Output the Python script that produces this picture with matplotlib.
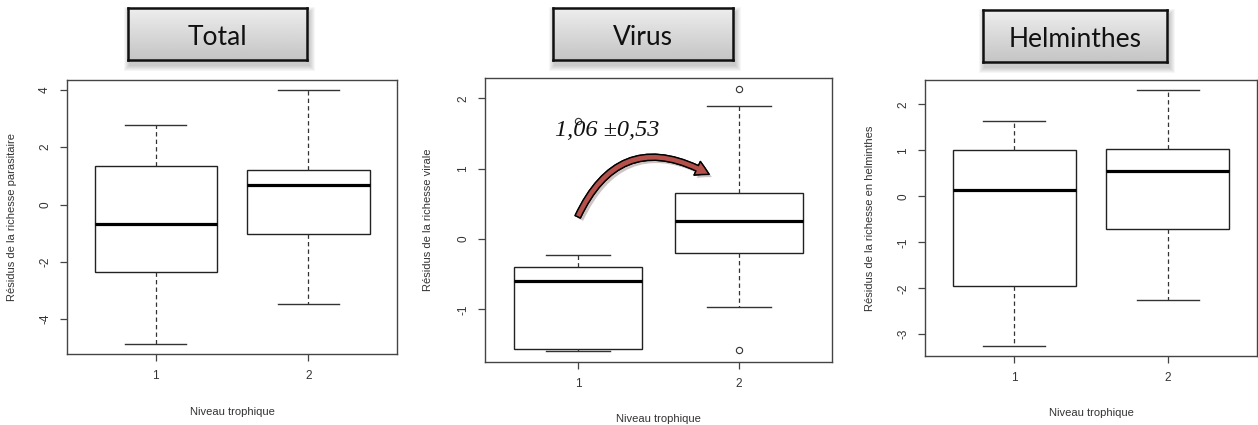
import numpy as np
import matplotlib
matplotlib.use('Agg')
import matplotlib.pyplot as plt
from matplotlib.patches import Rectangle, FancyArrowPatch
import matplotlib.patheffects as pe

W, H = 1258, 425
plt.rcParams['font.family'] = ['Liberation Sans', 'DejaVu Sans']

# valeurs des boxplots (niveau trophique 1 et 2)
titles = ["Total", "Virus", "Helminthes"]
ylabels = ["Résidus de la richesse parasitaire",
           "Résidus de la richesse virale",
           "Résidus de la richesse en helminthes"]
groups = ["1", "2"]

total_q = [[-4.86, -2.35, -0.67, 1.34, 2.78],
           [-3.48, -1.02, 0.69, 1.21, 3.99]]
total_out = [[], []]

virus_q = [[-1.60, -1.56, -0.60, -0.40, -0.23],
           [-0.97, -0.20, 0.26, 0.65, 1.89]]
virus_out = [[1.68], [2.14, -1.58]]

helm_q = [[-3.25, -1.94, 0.15, 1.00, 1.64],
          [-2.26, -0.71, 0.55, 1.04, 2.31]]
helm_out = [[], []]

yticks = [[-4, -2, 0, 2, 4], [-1, 0, 1, 2], [-3, -2, -1, 0, 1, 2]]

diff_label = "1,06 ±0,53"

# positions en pixels (x0, y0, x1, y1), origine en haut
axes_px = [(67, 80, 397, 354), (485, 78, 832, 362), (925, 80, 1257, 356)]
title_px = [(128, 8, 307, 60), (553, 8, 733, 60), (983, 10, 1167, 62)]
xlabel_y = [-0.193, -0.183, -0.188]

fig = plt.figure(figsize=(W / 100, H / 100), dpi=100)
fig.patch.set_facecolor('white')


def frac(x0, y0, x1, y1):
    return [x0 / W, 1 - y1 / H, (x1 - x0) / W, (y1 - y0) / H]


def title_box(box, text):
    x0, y0, x1, y1 = box
    # ombre floue sous le cadre
    for k in range(6):
        g = 6 - k
        fig.patches.append(Rectangle(((x0 - g + 2) / W, 1 - (y1 + 5 + g) / H),
                                     (x1 - x0 + 2 * g) / W, (y1 - y0 + 2 * g) / H,
                                     transform=fig.transFigure, color='black',
                                     alpha=0.035, lw=0, zorder=-1))
    tax = fig.add_axes(frac(*box))
    grad = np.linspace(0.93, 0.77, 64).reshape(-1, 1)
    tax.imshow(grad, cmap='gray', vmin=0, vmax=1, aspect='auto',
               extent=[0, 1, 0, 1])
    tax.set_xticks([])
    tax.set_yticks([])
    for s in tax.spines.values():
        s.set_linewidth(1.8)
        s.set_color('#111111')
    tax.text(0.5, 0.44, text, ha='center', va='center', fontsize=19,
             family='Lato', color='#111111', transform=tax.transAxes)


def panel(i, quart, outl):
    ax = fig.add_axes(frac(*axes_px[i]))
    stats = []
    for q, o in zip(quart, outl):
        stats.append(dict(whislo=q[0], q1=q[1], med=q[2], q3=q[3],
                          whishi=q[4], fliers=o))
    ax.bxp(stats, positions=[1, 2], widths=0.8, capwidths=0.4,
           patch_artist=True,
           boxprops=dict(facecolor='white', edgecolor='#222222', lw=1.0),
           medianprops=dict(color='black', lw=2.3, solid_capstyle='butt'),
           whiskerprops=dict(color='#333333', lw=0.9, linestyle=(0, (3.5, 2.5))),
           capprops=dict(color='#333333', lw=1.0),
           flierprops=dict(marker='o', markerfacecolor='none',
                           markeredgecolor='#333333', markersize=4.5, mew=0.8))
    allv = [v for q, o in zip(quart, outl) for v in [q[0], q[4]] + o]
    lo, hi = min(allv), max(allv)
    pad = 0.04 * (hi - lo)
    ax.set_ylim(lo - pad, hi + pad)
    ax.set_xlim(0.42, 2.58)
    ax.set_xticks([1, 2], groups)
    ax.set_yticks(yticks[i])
    ax.set_yticklabels([str(t) for t in yticks[i]], rotation=90, va='center')
    ax.tick_params(direction='out', length=5, width=0.9, color='#444444',
                   labelsize=8.5, labelcolor='#333333', pad=6.5)
    for s in ax.spines.values():
        s.set_color('#444444')
        s.set_linewidth(1.0)
    ax.set_ylabel(ylabels[i], fontsize=8, color='#333333')
    ax.yaxis.set_label_coords(-0.15, 0.5)
    ax.set_xlabel("Niveau trophique", fontsize=8, color='#333333')
    ax.xaxis.set_label_coords(0.5, xlabel_y[i])
    return ax


for i, t in enumerate(titles):
    title_box(title_px[i], t)

panel(0, total_q, total_out)
ax2 = panel(1, virus_q, virus_out)
panel(2, helm_q, helm_out)

# écart entre les deux niveaux trophiques (virus)
ax2.text(1.18, 1.55, diff_label, ha='center', va='center', fontsize=17.5,
         family='Liberation Serif', style='italic', color='#111111')
arrow = FancyArrowPatch((0.99, 0.28), (1.83, 0.90),
                        connectionstyle="arc3,rad=-0.55",
                        arrowstyle="simple,head_width=0.9,head_length=0.8,tail_width=0.35",
                        mutation_scale=12, facecolor='#b5504a',
                        edgecolor='black', lw=1.0, zorder=5)
arrow.set_path_effects([pe.withSimplePatchShadow(offset=(2, -2), alpha=0.25),
                        pe.Normal()])
ax2.add_patch(arrow)

fig.savefig('out.png', dpi=100)
